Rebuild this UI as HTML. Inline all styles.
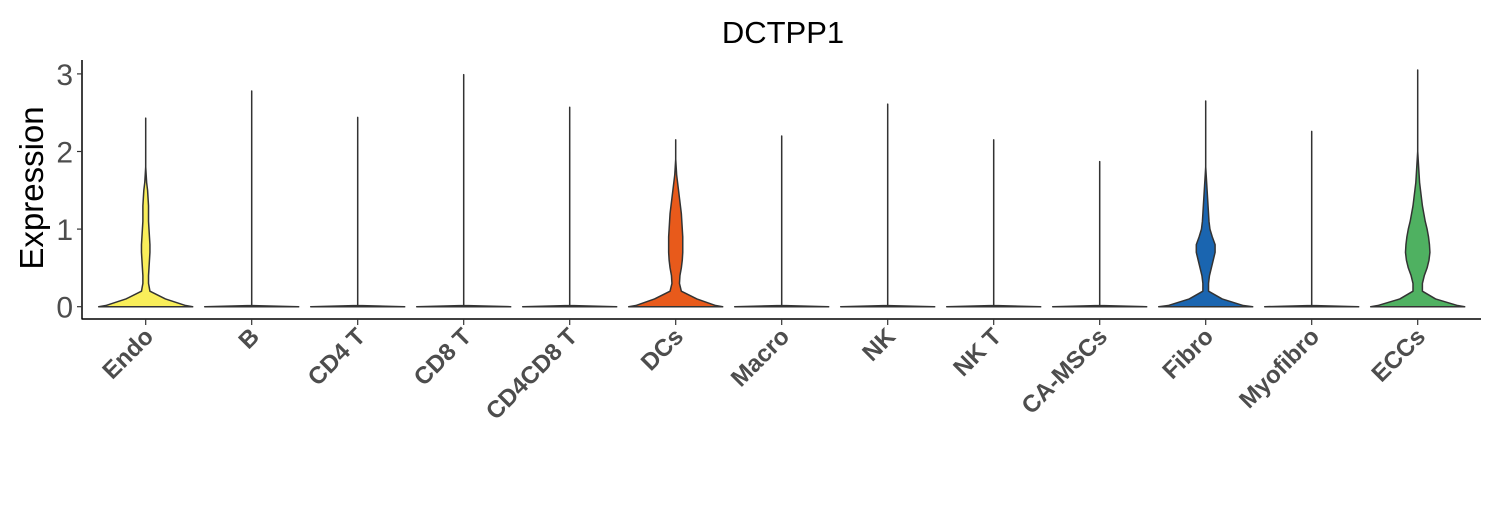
<!DOCTYPE html>
<html><head><meta charset="utf-8"><style>
body{margin:0;background:#fff}
svg text{font-family:"Liberation Sans",Arial,sans-serif}
</style></head><body>
<svg id="chart" width="1500" height="500" xmlns="http://www.w3.org/2000/svg">
<text x="783" y="43" font-size="31" text-anchor="middle" fill="#000">DCTPP1</text>
<text transform="translate(43,188) rotate(-90)" font-size="33" text-anchor="middle" fill="#000">Expression</text>
<g id="marks"></g>
<line x1="82" y1="60" x2="82" y2="319" stroke="#000" stroke-width="1.5"/>
<line x1="81.5" y1="319" x2="1481" y2="319" stroke="#000" stroke-width="1.5"/>
</svg>
<script>
const categories=["Endo","B","CD4 T","CD8 T","CD4CD8 T","DCs","Macro","NK","NK T","CA-MSCs","Fibro","Myofibro","ECCs"];
const maxValues=[2.43,2.78,2.44,2.99,2.57,2.15,2.2,2.61,2.15,1.87,2.65,2.26,3.05];
const fillColors=["#f9ee5a","#fff","#fff","#fff","#fff","#e85a1b","#fff","#fff","#fff","#fff","#1a65b0","#fff","#4fb161"];
// relative half-width profile at these expression levels (1 = full)
const levels=[0,0.015,0.1,0.2,0.3,0.4,0.5,0.6,0.7,0.8,0.9,1.0,1.1,1.2,1.3,1.4,1.5,1.6,1.7,1.8,1.9,2.0];
const flat=[1,0,0,0,0,0,0,0,0,0,0,0,0,0,0,0,0,0,0,0,0,0];
const profEndo=[1,0.85,0.42,0.09,0.06,0.06,0.07,0.08,0.09,0.09,0.08,0.07,0.06,0.06,0.06,0.05,0.04,0.02,0.01,0,0,0];
const profDCs=[1,0.85,0.45,0.12,0.08,0.09,0.12,0.14,0.15,0.15,0.15,0.14,0.13,0.12,0.1,0.08,0.06,0.04,0.02,0.01,0,0];
const profFibro=[1,0.8,0.35,0.06,0.06,0.08,0.12,0.16,0.2,0.2,0.14,0.09,0.07,0.06,0.05,0.04,0.03,0.02,0.01,0,0,0];
const profECCs=[1,0.85,0.38,0.1,0.1,0.14,0.2,0.24,0.26,0.25,0.23,0.2,0.16,0.13,0.1,0.08,0.06,0.04,0.03,0.02,0.01,0];
const profiles=[profEndo,flat,flat,flat,flat,profDCs,flat,flat,flat,flat,profFibro,flat,profECCs];
const yTicks=[0,1,2,3];

const xScale=i=>145.7+i*106;
const yScale=v=>306.7-v*77.6;
const halfMax=47;
const svg=document.getElementById('chart');
const g=document.getElementById('marks');
const NS="http://www.w3.org/2000/svg";

yTicks.forEach(t=>{
  const y=yScale(t);
  const l=document.createElementNS(NS,'line');
  
  
  l.setAttribute('x1',77);l.setAttribute('x2',82);l.setAttribute('y1',y);l.setAttribute('y2',y);
  l.setAttribute('stroke','#333');l.setAttribute('stroke-width',1.2);
  svg.appendChild(l);
  const tx=document.createElementNS(NS,'text');
  
  
  tx.setAttribute('x',73);tx.setAttribute('y',y+11);
  tx.setAttribute('text-anchor','end');tx.setAttribute('font-size',30);tx.setAttribute('fill','#4d4d4d');
  tx.textContent=t;svg.appendChild(tx);
});

categories.forEach((c,i)=>{
  const cx=xScale(i);
  const prof=profiles[i];
  const mx=maxValues[i];
  let right=[],left=[];
  for(let k=0;k<levels.length;k++){
    if(levels[k]>=mx)break;
    const w=Math.max(prof[k]*halfMax,0.01);
    right.push([cx+w,yScale(levels[k])]);
    left.push([cx-w,yScale(levels[k])]);
  }
  right.push([cx,yScale(mx)]);
  let d='M'+left[0][0]+','+left[0][1];
  right.forEach(p=>d+=' L'+p[0]+','+p[1]);
  for(let k=left.length-1;k>=0;k--)d+=' L'+left[k][0]+','+left[k][1];
  d+=' Z';
  const p=document.createElementNS(NS,'path');
  
  
  p.setAttribute('d',d);p.setAttribute('fill',fillColors[i]);
  p.setAttribute('stroke','#333');p.setAttribute('stroke-width',1.5);p.setAttribute('stroke-linejoin','round');
  g.appendChild(p);
  const t=document.createElementNS(NS,'line');
  
  
  t.setAttribute('x1',cx);t.setAttribute('x2',cx);t.setAttribute('y1',319);t.setAttribute('y2',325);
  t.setAttribute('stroke','#333');t.setAttribute('stroke-width',1.2);
  svg.appendChild(t);
  const tx=document.createElementNS(NS,'text');
  
  
  tx.setAttribute('transform','translate('+(cx+9)+',338) rotate(-45)');
  tx.setAttribute('text-anchor','end');tx.setAttribute('font-size',24);tx.setAttribute('font-weight','bold');tx.setAttribute('fill','#4d4d4d');
  tx.textContent=c;svg.appendChild(tx);
});
</script>
</body></html>
